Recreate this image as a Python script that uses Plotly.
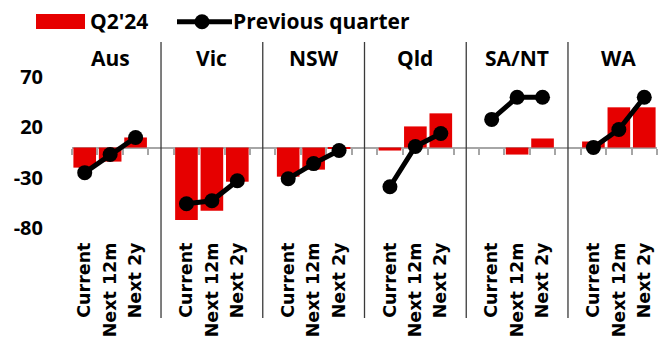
import plotly.graph_objects as go

# Regions (panel groups) and forecast horizons within each
regions = ["Aus", "Vic", "NSW", "Qld", "SA/NT", "WA"]
horizons = ["Current", "Next 12m", "Next 2y"]

# Net balance readings, in region order, three horizons each
q2_24 = [-20, -14, 10, -72, -63, -34, -29, -22, -1, -3, 21, 34, 0, -7, 9, 6, 40, 40]
previous_quarter = [-25, -7, 10, -56, -53, -33, -31, -16, -3, -39, 1, 14, 28, 50, 50, 0, 18, 50]

y_ticks = [70, 20, -30, -80]

# Figure geometry
W, H = 669, 347
ML, MR, MT, MB = 72, 12, 47, 109
PW, PH = W - ML - MR, H - MT - MB
Y_MIN, Y_MAX = -90, 100

RED = "#e60000"
BOLD = dict(family="Open Sans", color="black", weight="bold")


def px(x):
    return (x - ML) / PW


def py(y):
    return (H - MB - y) / PH


slots_per_region = len(horizons) + 1  # one blank slot between regions
n_slots = slots_per_region * len(regions) - 1
bar_x = [slots_per_region * g + h for g in range(len(regions)) for h in range(len(horizons))]

# Line series with breaks between regions
line_x, line_y = [], []
for g in range(len(regions)):
    for h in range(len(horizons)):
        i = g * len(horizons) + h
        line_x.append(bar_x[i])
        line_y.append(previous_quarter[i])
    line_x.append(None)
    line_y.append(None)

fig = go.Figure()
fig.add_trace(go.Bar(
    x=bar_x, y=q2_24, width=0.89, marker=dict(color=RED, line=dict(width=0)),
    name="Q2'24", showlegend=False,
))
fig.add_trace(go.Scatter(
    x=line_x, y=line_y, mode="lines+markers", connectgaps=False,
    line=dict(color="black", width=5), marker=dict(color="black", size=15),
    name="Previous quarter", showlegend=False,
))
# invisible trace to carry the zero-line axis
fig.add_trace(go.Scatter(x=[0], y=[0], xaxis="x2", mode="markers",
                         marker=dict(opacity=0), showlegend=False, hoverinfo="skip"))

centers = bar_x
labels = horizons * len(regions)
boundaries = [k - 0.5 for k in range(n_slots + 1)]

fig.update_layout(
    width=W, height=H,
    margin=dict(l=ML, r=MR, t=MT, b=MB),
    paper_bgcolor="white", plot_bgcolor="white",
    showlegend=False,
    xaxis=dict(
        range=[-0.5, n_slots - 0.5], tickmode="array", tickvals=centers, ticktext=labels,
        tickangle=-90, ticks="", 
        showgrid=False, zeroline=False, showline=False, automargin=False,
        tickfont=dict(family="DejaVu Sans", size=17.5, color="black", weight="bold"),
    ),
    xaxis2=dict(
        overlaying="x", matches="x", anchor="free",
        position=(0 - Y_MIN) / (Y_MAX - Y_MIN), side="bottom",
        tickmode="array", tickvals=boundaries, showticklabels=False,
        ticks="outside", ticklen=6, tickwidth=2, tickcolor="#a6a6a6",
        showline=True, linecolor="#a6a6a6", linewidth=2, automargin=False,
        showgrid=False, zeroline=False, layer="below traces",
    ),
    yaxis=dict(
        range=[Y_MIN, Y_MAX], tickmode="array", tickvals=y_ticks,
        ticktext=[str(v) for v in y_ticks],
        ticks="outside", ticklen=24, tickcolor="rgba(0,0,0,0)",
        showgrid=False, zeroline=False, showline=False, automargin=False,
        tickfont=dict(BOLD, size=20),
    ),
    bargap=0.1,
)

shapes = []
# vertical separators between regions
for g in range(1, len(regions)):
    sx = slots_per_region * g - 1
    shapes.append(dict(type="line", xref="x", yref="paper", x0=sx, x1=sx,
                       y0=py(318), y1=py(42), line=dict(color="#3a3a3a", width=1.3)))

# legend keys
shapes.append(dict(type="rect", xref="paper", yref="paper",
                   x0=px(36), x1=px(85), y0=py(29), y1=py(14),
                   fillcolor=RED, line=dict(width=0)))
shapes.append(dict(type="line", xref="paper", yref="paper",
                   x0=px(177), x1=px(232), y0=py(21.7), y1=py(21.7),
                   line=dict(color="black", width=5)))
shapes.append(dict(type="circle", xref="paper", yref="paper",
                   xsizemode="pixel", ysizemode="pixel",
                   xanchor=px(202), yanchor=py(21.7),
                   x0=-7.5, x1=7.5, y0=-7.5, y1=7.5,
                   fillcolor="black", line=dict(width=0)))

annotations = [
    dict(text="Q2'24", xref="paper", yref="paper", x=px(88), y=py(21),
         xanchor="left", yanchor="middle", showarrow=False,
         font=dict(BOLD, size=21)),
    dict(text="Previous quarter", xref="paper", yref="paper", x=px(231), y=py(21),
         xanchor="left", yanchor="middle", showarrow=False,
         font=dict(BOLD, size=21)),
]
for g, name in enumerate(regions):
    annotations.append(dict(
        text=name, xref="x", yref="paper", x=slots_per_region * g + 1, y=py(58),
        xanchor="center", yanchor="middle", showarrow=False, font=dict(BOLD, size=21),
    ))

fig.update_layout(shapes=shapes, annotations=annotations)

fig.write_html("out.html")
